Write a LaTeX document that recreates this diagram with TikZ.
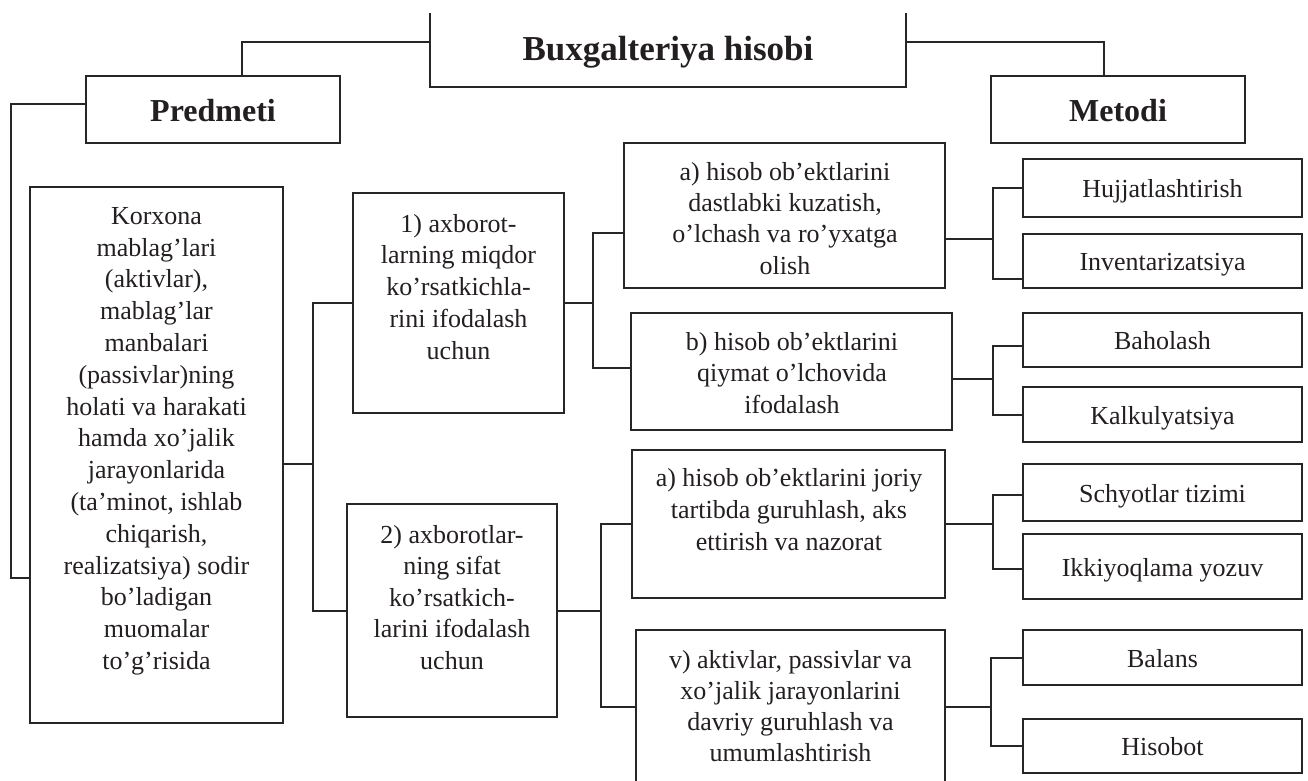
\documentclass[tikz,border=0pt]{standalone}
\usepackage{fontspec}
\setmainfont{Liberation Serif}
\definecolor{ink}{HTML}{231F20}
\definecolor{rule}{HTML}{262626}
\begin{document}
\begin{tikzpicture}[x=1pt,y=-1pt,
  conn/.style={draw=rule, line width=2pt},
  box/.style={draw=rule, line width=2pt, rectangle, inner sep=0pt, text=ink,
    text height=19pt, text depth=0pt},
  frame/.style={rectangle, inner sep=0pt, draw=none},
  head/.style={box, font=\bfseries\fontsize{32}{36}\selectfont, text height=23pt},
  item/.style={box, minimum width=279pt, font=\fontsize{26}{30}\selectfont},
  body/.style={inner sep=0pt, anchor=north, align=center, text=ink, draw=none,
    font=\fontsize{26}{31.5}\selectfont},
]
\useasboundingbox (0,0) rectangle (1308,780);

% title block, open at the top edge
\node[frame, minimum width=476pt, minimum height=74pt, text=ink,
      text height=23pt, text depth=3pt,
      font=\bfseries\fontsize{35}{40}\selectfont] (title) at (668,50) {Buxgalteriya hisobi};
\draw[conn] (title.north west) -- (title.south west) -- (title.south east) -- (title.north east);

% subject and method headers
\node[head, minimum width=254pt, minimum height=67pt] (pred) at (213,109.5) {Predmeti};
\node[head, minimum width=254pt, minimum height=67pt] (met) at (1118,109.5) {Metodi};

% subject description
\node[box, minimum width=253pt, minimum height=536pt] (big) at (156.5,455) {};
\node[body, font=\fontsize{26}{31.8}\selectfont] (bigt) at (156.5,207)
  {Korxona\\mablag’lari\\(aktivlar),\\mablag’lar\\manbalari\\(passivlar)ning\\holati va harakati\\hamda xo’jalik\\jarayonlarida\\(ta’minot, ishlab\\chiqarish,\\realizatsiya) sodir\\bo’ladigan\\muomalar\\to’g’risida};

% purposes
\node[box, minimum width=211pt, minimum height=220pt] (q1) at (458.5,303) {};
\node[body, font=\fontsize{26}{31.75}\selectfont] (q1t) at (458.5,214) {1) axborot-\\larning miqdor\\ko’rsatkichla-\\rini ifodalash\\uchun};
\node[box, minimum width=210pt, minimum height=213pt] (q2) at (452,610.5) {};
\node[body] (q2t) at (452,525) {2) axborotlar-\\ning sifat\\ko’rsatkich-\\larini ifodalash\\uchun};

% method groups
\node[box, minimum width=321pt, minimum height=145pt] (a1) at (784.5,215.5) {};
\node[body, font=\fontsize{26}{31.3}\selectfont] (a1t) at (785,162) {a) hisob ob’ektlarini\\dastlabki kuzatish,\\o’lchash va ro’yxatga\\olish};
\node[box, minimum width=321pt, minimum height=117pt] (b1) at (791.5,371.5) {};
\node[body] (b1t) at (792,332) {b) hisob ob’ektlarini\\qiymat o’lchovida\\ifodalash};
\node[box, minimum width=313pt, minimum height=148pt] (a2) at (788.5,524) {};
\node[body, font=\fontsize{26}{32}\selectfont] (a2t) at (789,468) {a) hisob ob’ektlarini joriy\\tartibda guruhlash, aks\\ettirish va nazorat};
\node[frame, minimum width=309pt, minimum height=154pt] (v) at (790.5,707) {};
\draw[conn] (v.south west) -- (v.north west) -- (v.north east) -- (v.south east);
\node[body, font=\fontsize{26}{31}\selectfont] (vt) at (790.5,650) {v) aktivlar, passivlar va\\xo’jalik jarayonlarini\\davriy guruhlash va\\umumlashtirish};

% method elements
\node[item, minimum height=58pt] (hujj) at (1162.5,188) {Hujjatlashtirish};
\node[item, minimum height=54pt] (inv) at (1162.5,261) {Inventarizatsiya};
\node[item, minimum height=54pt] (bah) at (1162.5,340) {Baholash};
\node[item, minimum height=55pt] (kal) at (1162.5,414.5) {Kalkulyatsiya};
\node[item, minimum height=57pt] (sch) at (1162.5,492.5) {Schyotlar tizimi};
\node[item, minimum height=65pt] (ikk) at (1162.5,566.5) {Ikkiyoqlama yozuv};
\node[item, minimum height=55pt] (bal) at (1162.5,657.5) {Balans};
\node[item, minimum height=54pt] (his) at (1162.5,746) {Hisobot};

% junction points, level with the parent's outgoing line
\coordinate (r1) at ([xshift=29pt,yshift=-9pt]big.east);
\coordinate (r2) at ([xshift=28pt]q1.east);
\coordinate (r3) at ([xshift=43pt]q2.east);
\coordinate (r4) at ([xshift=47pt,yshift=-23pt]a1.east);
\coordinate (r5) at ([xshift=40pt,yshift=-7pt]b1.east);
\coordinate (r6) at ([xshift=47pt]a2.east);
\coordinate (r7) at ([xshift=46pt]v.east);

\begin{scope}[conn]
% top level
\draw ([yshift=8pt]title.west) -| ([xshift=29pt]pred.north);
\draw ([yshift=8pt]title.east) -| ([xshift=-14pt]met.north);
\draw ([yshift=6pt]pred.west) -| ([xshift=-18pt,yshift=-123pt]big.west) -- ([yshift=-123pt]big.west);

% subject to purposes
\draw ([yshift=-9pt]big.east) -- (r1);
\draw (q1.west) -| (r1);
\draw (q2.west) -| (r1);

% purposes to method groups
\draw (q1.east) -- (r2);
\draw ([yshift=-17pt]a1.west) -| (r2);
\draw ([yshift=4pt]b1.west) -| (r2);
\draw (q2.east) -- (r3);
\draw (a2.west) -| (r3);
\draw (v.west) -| (r3);

% method groups to elements
\draw ([yshift=-23pt]a1.east) -- (r4);
\draw (hujj.west) -| (r4);
\draw ([yshift=-18pt]inv.west) -| (r4);
\draw ([yshift=-7pt]b1.east) -- (r5);
\draw ([yshift=-6pt]bah.west) -| (r5);
\draw (kal.west) -| (r5);
\draw (a2.east) -- (r6);
\draw ([yshift=-2pt]sch.west) -| (r6);
\draw ([yshift=-2pt]ikk.west) -| (r6);
\draw (v.east) -- (r7);
\draw (bal.west) -| (r7);
\draw (his.west) -| (r7);
\end{scope}
\end{tikzpicture}
\end{document}
